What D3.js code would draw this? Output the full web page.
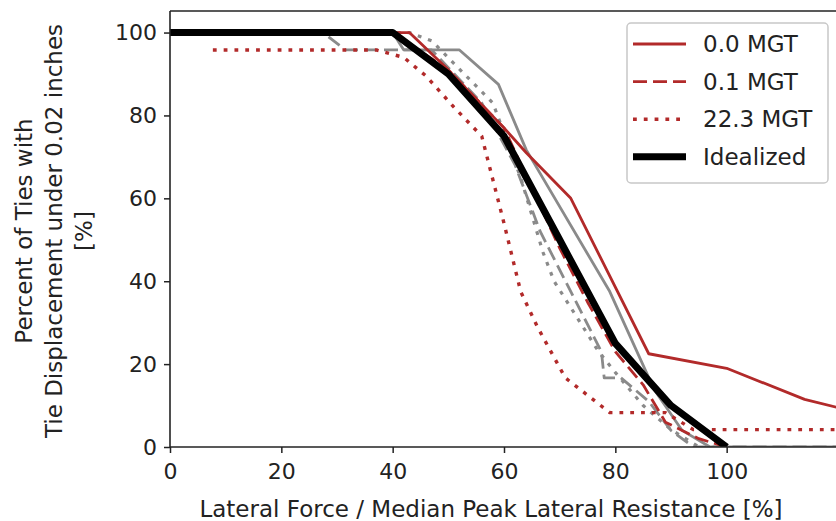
<!DOCTYPE html>
<html>
<head>
<meta charset="utf-8">
<script src="https://cdn.jsdelivr.net/npm/d3@7"></script>
<style>
  html, body { margin: 0; padding: 0; background: #fff; }
  svg { display: block; }
  text { font-family: "DejaVu Sans", sans-serif; fill: #222; }
</style>
</head>
<body>
<svg id="chart" width="836" height="521"></svg>
<script>
// ---- data ----
const idealX = [0, 40, 50, 60, 70, 80, 90, 100];
const idealY = [100, 100, 90, 75, 50, 25, 10, 0];

const mgt00X = [0, 43, 50, 60, 64, 72, 86, 100, 114, 120];
const mgt00Y = [100, 100, 91, 77, 71, 60, 22.5, 19, 11.5, 9.5];

const mgt01X = [0, 40, 50, 60, 70, 75, 80, 85, 89, 95, 100];
const mgt01Y = [100, 100, 91, 77, 48, 35, 23, 15, 6, 2, 0];

const mgt223X = [7.7, 37, 42, 46, 51, 56, 60, 63, 66, 71, 79, 89, 94, 120];
const mgt223Y = [95.8, 95.8, 94, 89.5, 82, 75, 54, 37.5, 29, 16.7, 8.3, 8.3, 4.2, 4.2];

const greySolidX = [0, 40, 42, 52, 59, 64, 79, 87, 92, 97, 120];
const greySolidY = [100, 100, 95.8, 95.8, 87.5, 71.7, 37.5, 13.8, 4, 0, 0];

const greyDashX = [0, 27.5, 31.5, 47, 56, 62, 66.5, 77.5, 78, 81, 86, 90, 94, 120];
const greyDashY = [100, 100, 95.8, 95.8, 83, 68, 52, 23, 16.7, 16.7, 11, 4, 0, 0];

const greyDotX = [0, 43, 47, 58, 63, 67, 69, 77, 80, 85, 90, 95];
const greyDotY = [100, 100, 98, 83, 65, 47, 40, 23, 18, 10, 4.2, 0];

const xTicks = [0, 20, 40, 60, 80, 100];
const yTicks = [0, 20, 40, 60, 80, 100];
const legendLabels = ["0.0 MGT", "0.1 MGT", "22.3 MGT", "Idealized"];

// ---- layout ----
const svg = d3.select("#chart");
const mL = 170, mR = 838, mT = 11, mB = 447;
const x = d3.scaleLinear().domain([0, 120]).range([mL, mR]);
const y = d3.scaleLinear().domain([0, 105.2]).range([mB, mT]);

const RED = "#b22a2a", GREY = "#8a8a8a";
const DASH = "14,6", DOT = "3.8,7";
const FS = 22, FL = 23;

const zip = (xs, ys) => xs.map((v, i) => [v, ys[i]]);
const line = d3.line().x(d => x(d[0])).y(d => y(d[1]));

svg.append("clipPath").attr("id", "clip")
  .append("rect").attr("x", mL).attr("y", mT).attr("width", mR - mL).attr("height", mB - mT);

const g = svg.append("g").attr("clip-path", "url(#clip)");

const series = [
  {d: zip(greySolidX, greySolidY), c: GREY, w: 2.8, dash: null},
  {d: zip(greyDashX, greyDashY), c: GREY, w: 2.8, dash: DASH},
  {d: zip(greyDotX, greyDotY), c: GREY, w: 3.2, dash: DOT},
  {d: zip(mgt00X, mgt00Y), c: RED, w: 2.8, dash: null},
  {d: zip(mgt01X, mgt01Y), c: RED, w: 2.8, dash: DASH},
  {d: zip(mgt223X, mgt223Y), c: RED, w: 3.4, dash: DOT},
  {d: zip(idealX, idealY), c: "#000", w: 7, dash: null}
];
series.forEach(s => {
  g.append("path").attr("d", line(s.d)).attr("fill", "none")
    .attr("stroke", s.c).attr("stroke-width", s.w)
    .attr("stroke-dasharray", s.dash)
    .attr("stroke-linejoin", "round");
});

// ---- axes ----
const xAxis = svg.append("g").attr("transform", `translate(0,${mB})`)
  .call(d3.axisBottom(x).tickValues(xTicks).tickSize(6).tickPadding(10).tickFormat(d3.format("d")));
const yAxis = svg.append("g").attr("transform", `translate(${mL},0)`)
  .call(d3.axisLeft(y).tickValues(yTicks).tickSize(6).tickPadding(7).tickFormat(d3.format("d")));
[xAxis, yAxis].forEach(a => {
  a.select(".domain").remove();
  a.selectAll(".tick line").attr("stroke", "#222").attr("stroke-width", 1.5);
  a.selectAll(".tick text").attr("font-size", FS).attr("fill", "#222")
    .attr("font-family", '"DejaVu Sans", sans-serif');
});

// spines
const spine = (x1, y1, x2, y2) => svg.append("line").attr("x1", x1).attr("y1", y1).attr("x2", x2).attr("y2", y2)
  .attr("stroke", "#222").attr("stroke-width", 1.6);
spine(mL, mT, mL, mB);
spine(mL, mB, mR, mB);
spine(mL, mT, mR, mT);
spine(mR, mT, mR, mB);

// axis labels
svg.append("text").attr("x", 491).attr("y", 517)
  .attr("text-anchor", "middle").attr("font-size", FL)
  .text("Lateral Force / Median Peak Lateral Resistance [%]");

const yLabLines = ["Percent of Ties with", "Tie Displacement under 0.02 inches", "[%]"];
const yLabBase = [32, 62, 92];
yLabLines.forEach((t, i) => {
  svg.append("text").attr("transform", `translate(${yLabBase[i]},231) rotate(-90)`)
    .attr("text-anchor", "middle").attr("font-size", FL).text(t);
});

// ---- legend ----
const lg = svg.append("g");
lg.append("rect").attr("x", 627).attr("y", 23).attr("width", 201).attr("height", 160)
  .attr("rx", 4).attr("fill", "#fff").attr("fill-opacity", 0.85)
  .attr("stroke", "#c8c8c8").attr("stroke-width", 1.5);
const legStyles = [series[3], series[4], series[5], series[6]];
legendLabels.forEach((lab, i) => {
  const cy = 44 + i * 37.6;
  const s = legStyles[i];
  lg.append("line").attr("x1", 633).attr("x2", 686).attr("y1", cy).attr("y2", cy)
    .attr("stroke", s.c).attr("stroke-width", s.w).attr("stroke-dasharray", s.dash);
  lg.append("text").attr("x", 703).attr("y", cy).attr("dy", "0.36em")
    .attr("font-size", FL).text(lab);
});
</script>
</body>
</html>
